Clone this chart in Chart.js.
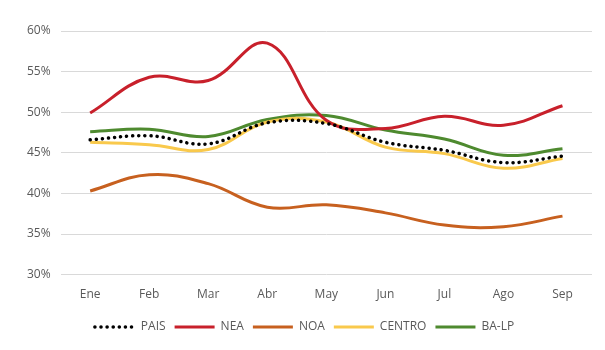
<!DOCTYPE html>
<html lang="es">
<head>
  <meta charset="UTF-8">
  <title>Regiones</title>
  <script src="https://cdn.jsdelivr.net/npm/chart.js"></script>
  <style>
    body { margin: 0; background: #fff; }
    #wrap { width: 605px; height: 350px; }
  </style>
</head>
<body>
  <div id="wrap"><canvas id="grafico"></canvas></div>
  <script>
    const meses = ["Ene", "Feb", "Mar", "Abr", "May", "Jun", "Jul", "Ago", "Sep"];
    const pais   = [46.6, 47.1, 46.1, 48.7, 48.6, 46.3, 45.3, 43.8, 44.6];
    const nea    = [49.9, 54.3, 53.9, 58.5, 49.0, 48.0, 49.5, 48.4, 50.8];
    const noa    = [40.3, 42.3, 41.2, 38.3, 38.6, 37.6, 36.1, 35.9, 37.2];
    const centro = [46.3, 46.0, 45.4, 48.8, 48.8, 45.7, 44.9, 43.1, 44.3];
    const balp   = [47.6, 47.9, 47.0, 49.1, 49.6, 47.8, 46.7, 44.7, 45.5];

    const serie = (label, data, color, extra) => Object.assign({
      label: label,
      data: data,
      borderColor: color,
      backgroundColor: color,
      borderWidth: 3,
      tension: 0.4,
      pointRadius: 0,
      fill: false
    }, extra || {});

    const gris = '#595959';

    new Chart(document.getElementById("grafico"), {
      type: 'line',
      data: {
        labels: meses,
        datasets: [
          serie("PAIS", pais, "#000000", { borderDash: [0.1, 6], borderCapStyle: 'round', borderWidth: 3.5 }),
          serie("NEA", nea, "#C8202B"),
          serie("NOA", noa, "#C7601F"),
          serie("CENTRO", centro, "#F9C94C"),
          serie("BA-LP", balp, "#4E8A2F")
        ]
      },
      options: {
        responsive: true,
        maintainAspectRatio: false,
        animation: false,
        layout: { padding: { left: 17, right: 13, top: 31, bottom: 7 } },
        plugins: {
          legend: {
            position: 'bottom',
            labels: {
              usePointStyle: true,
              pointStyle: 'line',
              pointStyleWidth: 40,
              boxHeight: 6,
              padding: 9,
              color: gris,
              font: { family: 'Open Sans', size: 12 },
              // el estilo de punto no lleva el trazo punteado del dataset
              generateLabels: chart => {
                const items = Chart.defaults.plugins.legend.labels.generateLabels(chart);
                items.forEach(it => {
                  const ds = chart.data.datasets[it.datasetIndex];
                  it.lineDash = ds.borderDash || [];
                  it.lineCap = ds.borderCapStyle || 'butt';
                  it.lineWidth = ds.borderWidth;
                  it.strokeStyle = ds.borderColor;
                });
                return items;
              }
            }
          },
          tooltip: { enabled: false }
        },
        scales: {
          y: {
            min: 30,
            max: 60,
            ticks: {
              stepSize: 5,
              padding: 10,
              color: gris,
              font: { family: 'Open Sans', size: 12 },
              callback: v => v + "%"
            },
            grid: { color: '#d9d9d9', drawTicks: false },
            border: { display: false }
          },
          x: {
            offset: true,
            afterFit: s => { s.height += 5; },
            ticks: {
              padding: 5,
              color: gris,
              font: { family: 'Open Sans', size: 12 }
            },
            grid: { display: false },
            border: { display: false }
          }
        }
      }
    });
  </script>
</body>
</html>
